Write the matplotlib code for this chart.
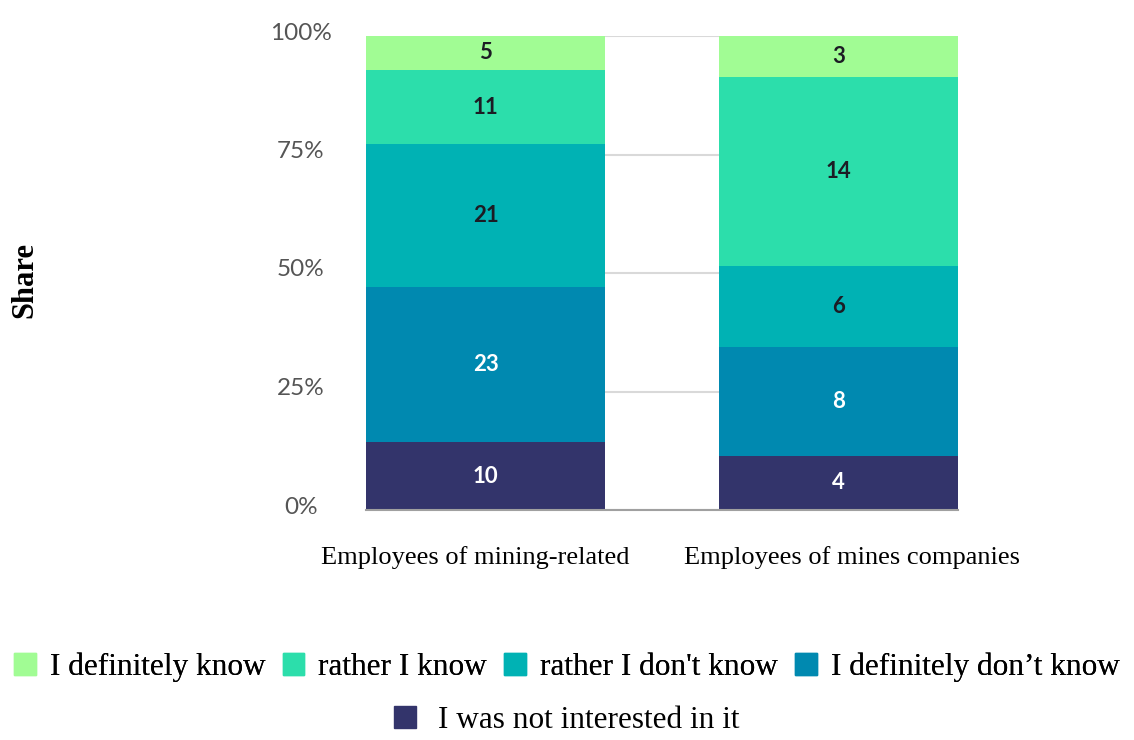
import numpy as np
import matplotlib.pyplot as plt
import matplotlib.transforms as mtransforms
from matplotlib.patches import Patch

groups = ["Employees of mining-related", "Employees of mines companies"]
answers = ["I was not interested in it", "I definitely don\u2019t know",
           "rather I don't know", "rather I know", "I definitely know"]
counts_related = [10, 23, 21, 11, 5]
counts_mines = [4, 8, 6, 14, 3]
colors = ["#33346b", "#0089b0", "#00b2b4", "#2cdeab", "#a1fc94"]
label_colors = ["white", "white", "#1c1c24", "#1c1c24", "#1c1c24"]

counts = np.array([counts_related, counts_mines], dtype=float)
shares = counts / counts.sum(axis=1, keepdims=True) * 100

fig = plt.figure(figsize=(11.34, 7.4), dpi=100)
ax = fig.add_axes([366 / 1134, 230 / 740, 592 / 1134, 474 / 740])

x = np.arange(len(groups))
width = 0.678
bottom = np.zeros(len(groups))
for i, ans in enumerate(answers):
    ax.bar(x, shares[:, i], width, bottom=bottom, color=colors[i], zorder=2)
    for j in range(len(groups)):
        ax.text(x[j], bottom[j] + shares[j, i] / 2, str(int(counts[j, i])),
                ha="center", va="center", fontsize=16, fontweight="bold",
                family="Lato", color=label_colors[i], zorder=3)
    bottom += shares[:, i]

ax.set_xlim(-width / 2, 1 + width / 2)
ax.set_ylim(0, 100)
ax.set_yticks([0, 25, 50, 75, 100])
ax.set_yticklabels(["0%", "25%", "50%", "75%", "100%"], family="Lato",
                   fontsize=17.5, color="#555555", ha="center")
ax.tick_params(axis="y", length=0, pad=47)
for lab in ax.get_yticklabels():
    lab.set_transform(lab.get_transform() +
                      mtransforms.ScaledTranslation(0, 0.05, fig.dpi_scale_trans))
ax.set_xticks(x)
ax.set_xticklabels(groups, family="Liberation Serif", fontsize=19)
ax.tick_params(axis="x", length=0, pad=26)
for lab, dx in zip(ax.get_xticklabels(), [-0.10, 0.14]):
    lab.set_transform(lab.get_transform() +
                      mtransforms.ScaledTranslation(dx, 0, fig.dpi_scale_trans))
ax.yaxis.grid(True, color="#d9d9d9", linewidth=1.5, zorder=0)
for s in ["top", "right", "left"]:
    ax.spines[s].set_visible(False)
ax.spines["bottom"].set_color("#a0a0a0")
ax.spines["bottom"].set_linewidth(1.5)

fig.text(25 / 1134, 1 - 280 / 740, "Share", rotation=90, ha="center", va="center",
         family="Liberation Serif", fontsize=22, fontweight="bold")

order1 = [4, 3, 2, 1]
h1 = [Patch(color=colors[i]) for i in order1]
l1 = [answers[i] for i in order1]
leg1 = fig.legend(h1, l1, loc="center", bbox_to_anchor=(0.5, 1 - 667 / 740), ncol=4,
                  frameon=False, prop={"family": "Liberation Serif", "size": 22.5},
                  handlelength=0.7, handleheight=0.7, handletextpad=0.45,
                  columnspacing=0.55, borderpad=0)
fig.legend([Patch(color=colors[0])], [answers[0]], loc="center",
           bbox_to_anchor=(0.5, 1 - 720 / 740), frameon=False,
           prop={"family": "Liberation Serif", "size": 22.5},
           handlelength=0.7, handleheight=0.7, handletextpad=0.7, borderpad=0)
fig.add_artist(leg1)

fig.savefig("out.png", dpi=100)
